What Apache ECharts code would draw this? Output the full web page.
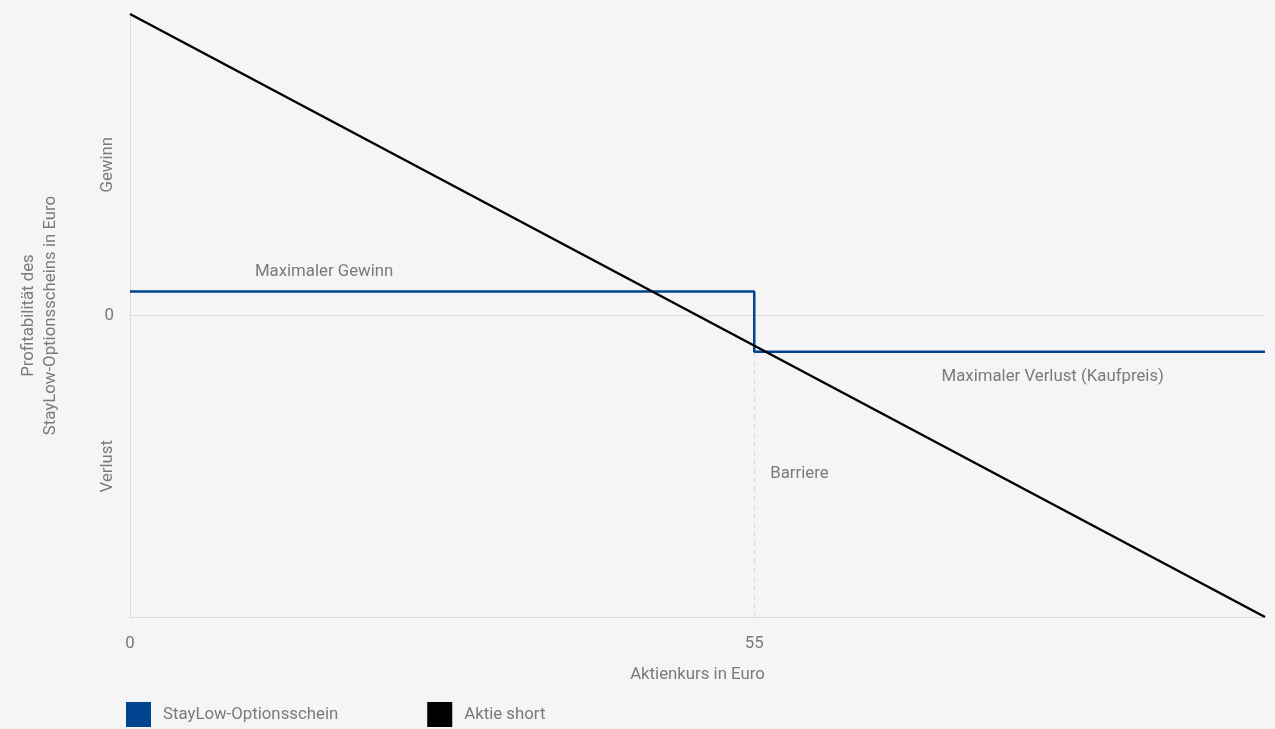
<!DOCTYPE html>
<html><head><meta charset="utf-8">
<script src="https://cdn.jsdelivr.net/npm/echarts@6/dist/echarts.min.js"></script>
<style>html,body{margin:0;padding:0;background:#f5f5f5;}#c{width:1275px;height:729px;}</style>
</head><body><div id="c"></div>
<script>
const stockPrice = [0, 55, 55, 100];
const stayLowProfit = [4, 4, -6, -6];
const shortPrice = [0, 100];
const shortProfit = [50, -50];
const xTickValues = [0, 55];
const barrier = 55;
const yZeroTick = [0];
const yWordTicks = [25, -25];
const yWordLabels = {'25': 'Gewinn', '-25': 'Verlust'};
const seriesNames = ['StayLow-Optionsschein', 'Aktie short'];
const annotations = [
  {text: 'Maximaler Gewinn', x: 17.1, y: 7.3},
  {text: 'Maximaler Verlust (Kaufpreis)', x: 81.3, y: -10.1}
];

const FONT = 'Roboto';
const FS = 16.8;
const GRAY = '#7a7a7a';
const BLUE = '#00438f';

const chart = echarts.init(document.getElementById('c'));
chart.setOption({
  backgroundColor: '#f5f5f5',
  animation: false,
  textStyle: {fontFamily: FONT, color: GRAY},
  grid: {left: 130, right: 10, top: 14, bottom: 112, containLabel: false},
  legend: {
    left: 126, bottom: 2, padding: 0, icon: 'rect', itemWidth: 25, itemHeight: 25, itemGap: 89,
    textStyle: {fontFamily: FONT, fontSize: FS, color: GRAY, padding: [0,0,0,7]},
    data: seriesNames
  },
  xAxis: {
    type: 'value', min: 0, max: 100,
    name: 'Aktienkurs in Euro', nameLocation: 'middle', nameGap: 49,
    nameTextStyle: {fontFamily: FONT, fontSize: FS, color: GRAY},
    axisLine: {show: true, onZero: false, lineStyle: {color: '#dcdcdc', width: 1}},
    axisTick: {show: false},
    splitLine: {show: false},
    axisLabel: {customValues: xTickValues, fontFamily: FONT, fontSize: FS, color: GRAY, margin: 18}
  },
  yAxis: [{
    type: 'value', min: -50, max: 50,
    name: 'Profitabilität des\nStayLow-Optionsscheins in Euro', nameLocation: 'middle', nameGap: 68,
    nameTextStyle: {fontFamily: FONT, fontSize: FS, color: GRAY, lineHeight: 22},
    axisLine: {show: true, onZero: false, lineStyle: {color: '#dcdcdc', width: 1}},
    axisTick: {show: false},
    splitLine: {show: false},
    axisLabel: {customValues: yZeroTick, fontFamily: FONT, fontSize: FS, color: GRAY, margin: 16}
  }, {
    type: 'value', min: -50, max: 50, position: 'left',
    axisLine: {show: false}, axisTick: {show: false}, splitLine: {show: false},
    axisLabel: {customValues: yWordTicks, rotate: 90, fontFamily: FONT, fontSize: FS, color: GRAY, margin: 14,
      formatter: v => yWordLabels[String(v)] || ''}
  }],
  series: [{
    name: seriesNames[0], type: 'line', color: BLUE,
    data: stockPrice.map((x, i) => [x, stayLowProfit[i]]),
    showSymbol: false, symbol: 'none',
    lineStyle: {color: BLUE, width: 2.5},
    z: 3,
    markLine: {
      silent: true, symbol: 'none', animation: false,
      label: {show: false},
      data: [
        [{coord: [0, 0], lineStyle: {color: '#dcdcdc', width: 1, type: 'solid'}}, {coord: [100, 0]}],
        [{coord: [barrier, stayLowProfit[2]], lineStyle: {color: '#d8d8d8', width: 1, type: [5, 4]}}, {coord: [barrier, -50]}]
      ],
      z: 1
    },
    markPoint: {
      silent: true, symbol: 'circle', symbolSize: 0,
      data: annotations.map(a => ({coord: [a.x, a.y], value: a.text,
        label: {show: true, formatter: a.text, position: 'inside', fontFamily: FONT, fontSize: FS, color: GRAY}}))
        .concat([{coord: [barrier, -26.3], value: 'Barriere',
          label: {show: true, formatter: 'Barriere', position: 'right', distance: 16, fontFamily: FONT, fontSize: FS, color: GRAY}}])
    }
  }, {
    name: seriesNames[1], type: 'line', color: '#000000',
    data: shortPrice.map((x, i) => [x, shortProfit[i]]),
    showSymbol: false, symbol: 'none',
    lineStyle: {color: '#000000', width: 2.5},
    z: 4
  }]
});
</script></body></html>
